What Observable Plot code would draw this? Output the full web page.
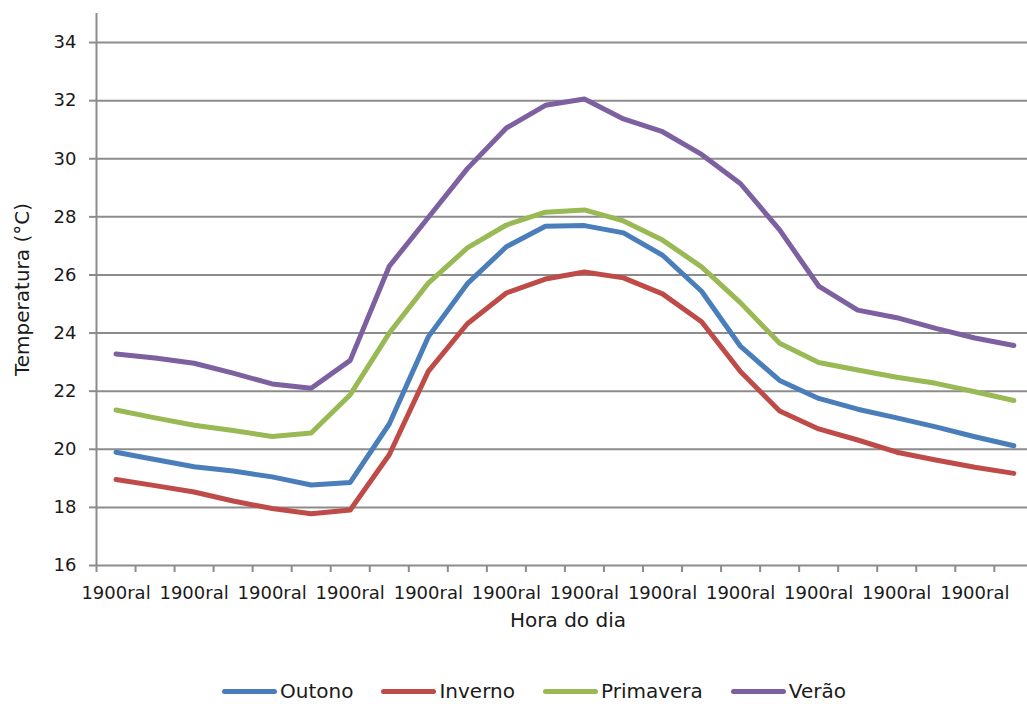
<!DOCTYPE html>
<html><head><meta charset="utf-8">
<script src="https://cdn.jsdelivr.net/npm/d3@7"></script>
<script src="https://cdn.jsdelivr.net/npm/@observablehq/plot@0.6"></script>
<style>
body{margin:0;background:#fff;font-family:"DejaVu Sans",sans-serif;width:1027px;height:704px;overflow:hidden;position:relative}
#legend{position:absolute;top:680px;left:0;width:1027px;height:22px;display:flex;justify-content:center;align-items:center;gap:28px;font-size:20px;color:#1a1a1a;padding-left:41px;box-sizing:border-box}
.item{display:flex;align-items:center}
.sw{width:55px;height:5px;border-radius:3px;margin-right:3px}
</style></head><body><div id="chart"></div><div id="legend"></div>
<script>
const hours = [0,1,2,3,4,5,6,7,8,9,10,11,12,13,14,15,16,17,18,19,20,21,22,23];
const labelHours = [0,2,4,6,8,10,12,14,16,18,20,22];
const tickLabels = ["1900ral","1900ral","1900ral","1900ral","1900ral","1900ral","1900ral","1900ral","1900ral","1900ral","1900ral","1900ral"];
const yTicks = [16,18,20,22,24,26,28,30,32,34];
const gridTicks = [18,20,22,24,26,28,30,32,34];
const seriesNames = ["Outono","Inverno","Primavera","Verão"];
const seriesColors = ["#4a7ebb","#be4b48","#98b954","#7d60a0"];
const outono    = [19.9,19.65,19.4,19.25,19.05,18.77,18.86,20.87,23.87,25.7,26.97,27.68,27.7,27.45,26.68,25.44,23.54,22.37,21.75,21.38,21.08,20.77,20.43,20.12];
const inverno   = [18.96,18.75,18.53,18.22,17.96,17.78,17.91,19.81,22.68,24.32,25.38,25.86,26.1,25.9,25.35,24.39,22.67,21.32,20.7,20.32,19.9,19.63,19.38,19.17];
const primavera = [21.35,21.08,20.83,20.65,20.44,20.56,21.88,24.0,25.72,26.93,27.72,28.16,28.24,27.86,27.2,26.28,25.04,23.65,22.99,22.73,22.48,22.27,21.98,21.68];
const verao     = [23.28,23.14,22.96,22.62,22.25,22.1,23.06,26.3,27.98,29.66,31.06,31.84,32.06,31.37,30.93,30.15,29.14,27.55,25.62,24.79,24.53,24.16,23.83,23.57];
const seriesValues = [outono, inverno, primavera, verao];

const table = seriesNames.flatMap((name, s) => seriesValues[s].map((v, i) => ({hour: hours[i], temp: v, season: name})));
const boundaries = hours.map(h => h - 0.5);
const gridColor = "#8c8c8c";

const chart = Plot.plot({
  width: 1027, height: 650,
  marginLeft: 96, marginRight: 0, marginTop: 13, marginBottom: 85,
  style: {fontFamily: "DejaVu Sans", fontSize: "18px", color: "#1a1a1a", background: "#fff"},
  x: {domain: [-0.5, 23.35]},
  y: {domain: [16, 35]},
  color: {domain: seriesNames, range: seriesColors},
  marks: [
    Plot.gridY(gridTicks, {stroke: gridColor, strokeOpacity: 1, strokeWidth: 2}),
    Plot.ruleY([16], {stroke: gridColor, strokeWidth: 2}),
    Plot.ruleX([-0.5], {stroke: gridColor, strokeWidth: 2}),
    Plot.axisY(yTicks, {tickSize: 7, tickPadding: 13, stroke: gridColor, strokeWidth: 2, fill: "#1a1a1a", label: null}),
    Plot.axisX(boundaries, {tickSize: 7, tickFormat: () => "", stroke: gridColor, strokeWidth: 2, label: null}),
    Plot.axisX(labelHours, {tickSize: 0, tickPadding: 21, tickFormat: d => tickLabels[labelHours.indexOf(d)], fill: "#1a1a1a", label: null}),
    Plot.line(table, {x: "hour", y: "temp", z: "season", stroke: "season", strokeWidth: 5, strokeLinecap: "round", strokeLinejoin: "round"}),
    Plot.text(["Hora do dia"], {frameAnchor: "bottom", textAnchor: "middle", dx: 6, dy: 61, fontSize: 20, fill: "#1a1a1a"}),
    Plot.text(["Temperatura (°C)"], {frameAnchor: "left", textAnchor: "middle", dx: -74, rotate: -90, fontSize: 20, fill: "#1a1a1a"})
  ]
});
document.getElementById("chart").appendChild(chart);

const legend = document.getElementById("legend");
seriesNames.forEach((name, i) => {
  const item = document.createElement("div");
  item.className = "item";
  const sw = document.createElement("span");
  sw.className = "sw";
  sw.style.background = seriesColors[i];
  const t = document.createElement("span");
  t.textContent = name;
  item.appendChild(sw); item.appendChild(t);
  legend.appendChild(item);
});
</script>
</body></html>
